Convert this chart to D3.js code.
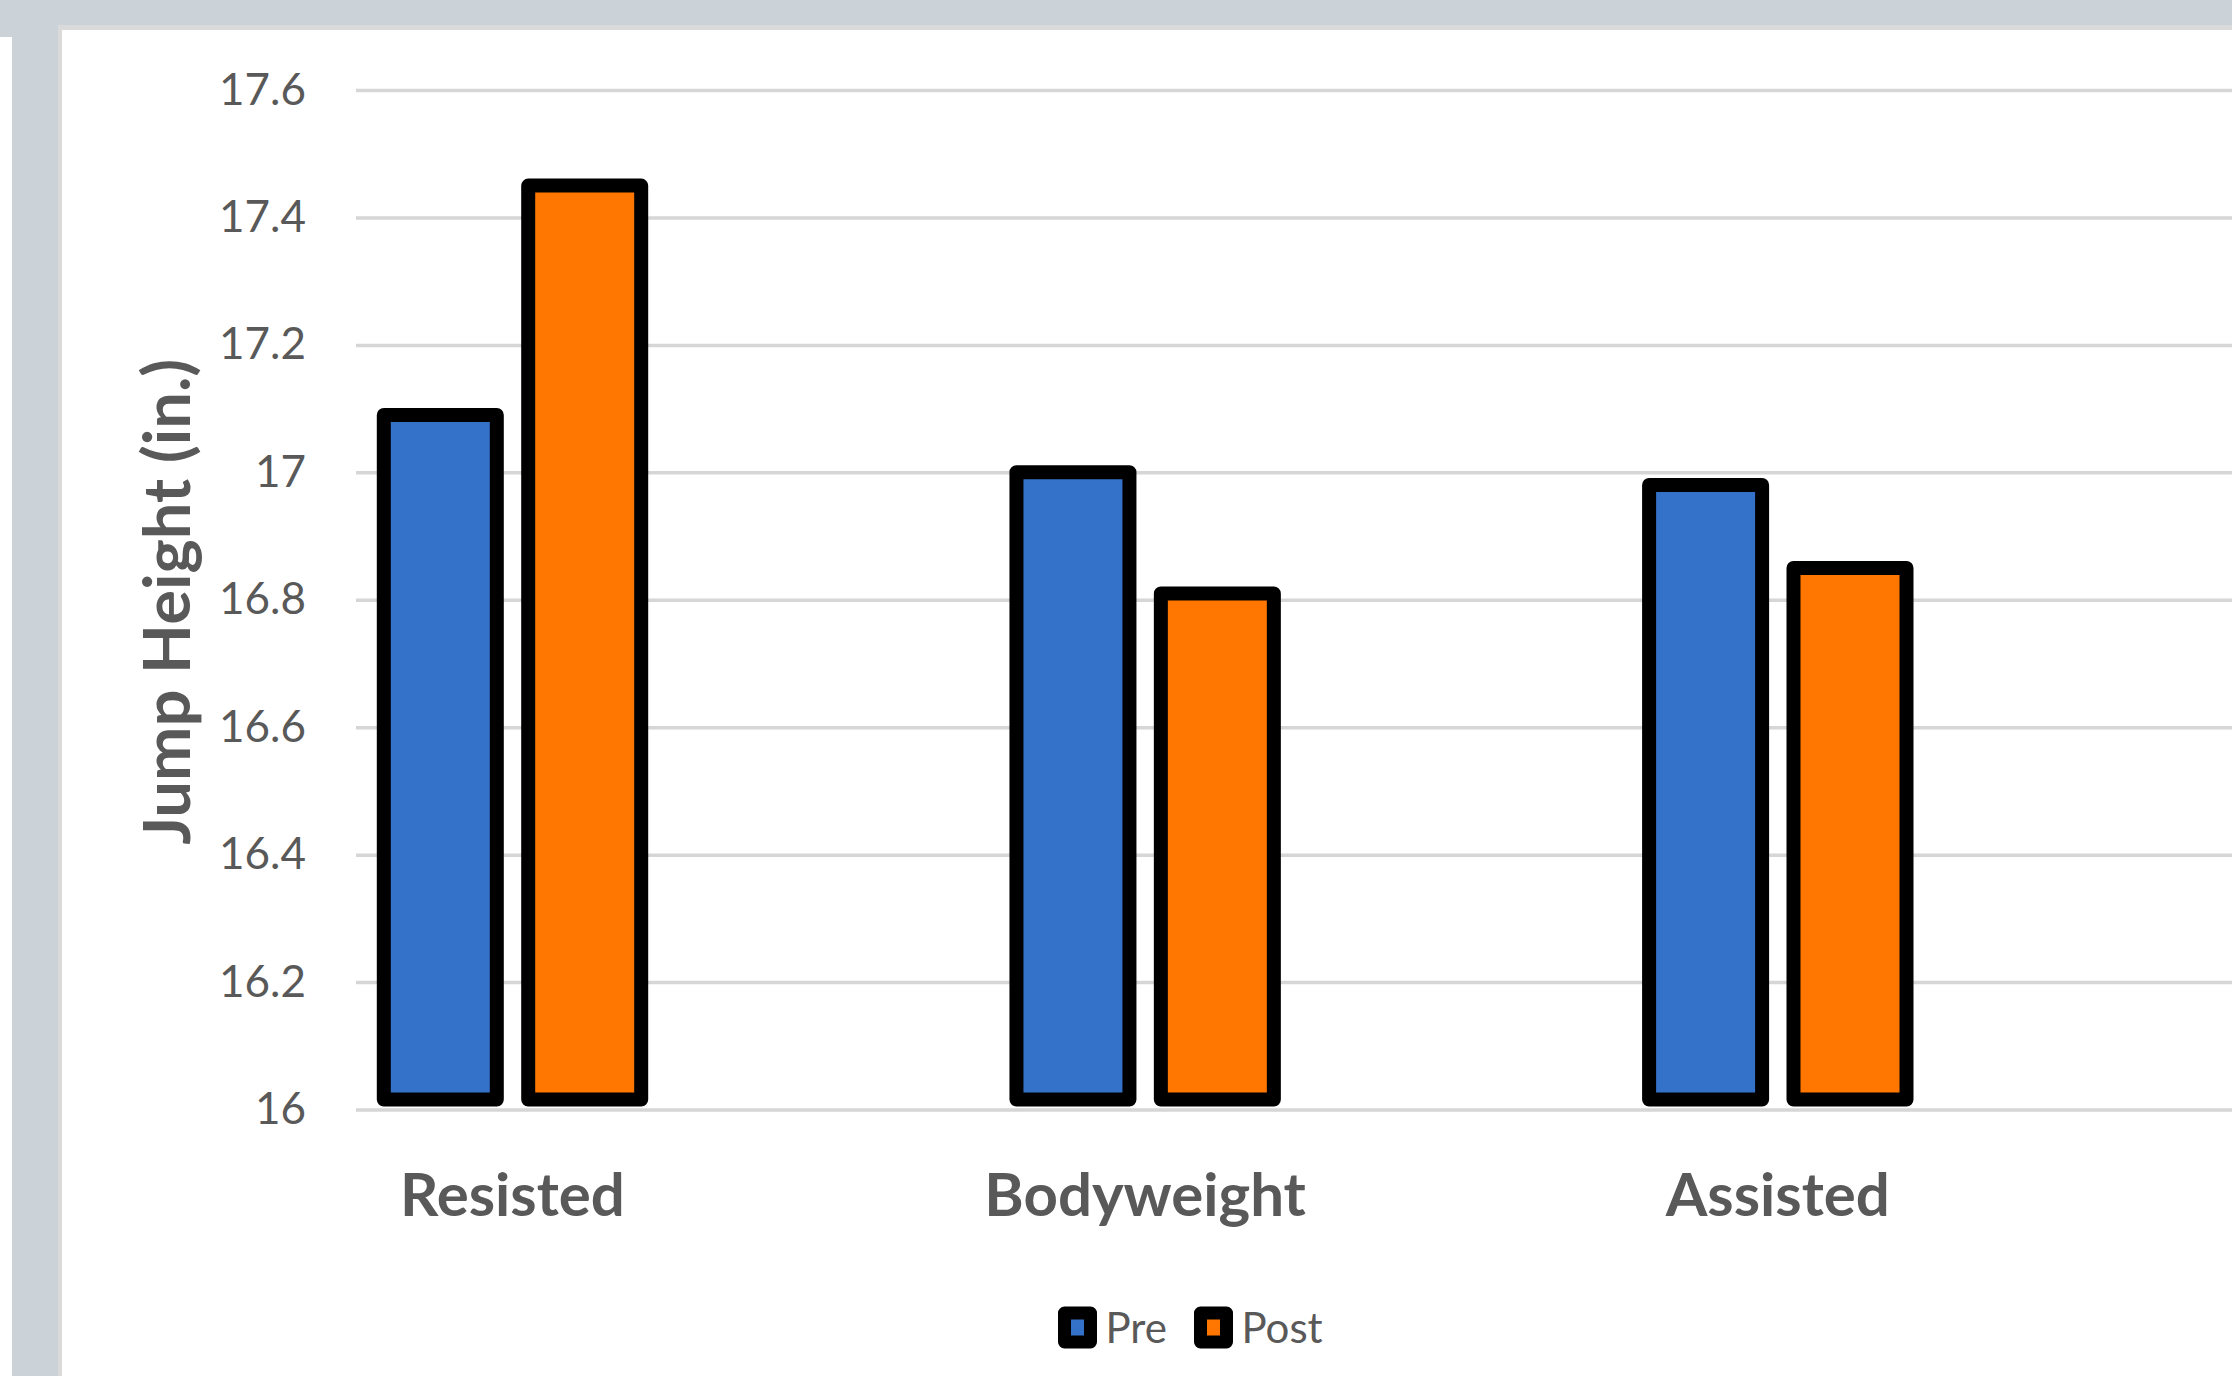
<!DOCTYPE html>
<html lang="en">
<head>
    <meta charset="UTF-8">
    <script src="https://d3js.org/d3.v7.min.js"></script>
    <title>Jump Height - Pre / Post</title>
    <style>
        body { margin: 0; background: #ffffff; }
        svg text { font-family: Lato, "Open Sans", sans-serif; fill: #595959; }
    </style>
</head>
<body>

    <div id="chart"></div>

    <script>
        // chart values
        let categories = ["Resisted", "Bodyweight", "Assisted"];
        let series = ["Pre", "Post"];
        let preValues = [17.09, 17.00, 16.98];
        let postValues = [17.45, 16.81, 16.85];
        let yTicks = [16, 16.2, 16.4, 16.6, 16.8, 17, 17.2, 17.4, 17.6];
        let seriesColors = ["#3472c9", "#ff7700"];

        let width = 2232, height = 1376;

        let svg = d3.select("#chart")
            .append("svg")
            .attr("width", width)
            .attr("height", height);

        // frame around the chart (screenshot edges)
        svg.append("rect").attr("x", 0).attr("y", 0).attr("width", width).attr("height", 25).attr("fill", "#cbd3d9");
        svg.append("rect").attr("x", 0).attr("y", 25).attr("width", width).attr("height", 5).attr("fill", "#dadada");
        svg.append("rect").attr("x", 0).attr("y", 0).attr("width", 12).attr("height", 37).attr("fill", "#cbd3d9");
        svg.append("rect").attr("x", 12).attr("y", 0).attr("width", 46).attr("height", height).attr("fill", "#cbd3d9");
        svg.append("rect").attr("x", 58).attr("y", 30).attr("width", 4).attr("height", height).attr("fill", "#dadada");

        // scales
        let plotLeft = 356;
        let y = d3.scaleLinear()
            .domain([16, 17.6])
            .range([1109.5, 90]);

        let groupStep = 632.65;
        let x = d3.scaleBand()
            .domain(categories)
            .range([512.5 - groupStep / 2, 512.5 + groupStep * 2.5])
            .padding(0);

        let groupWidth = 288.8;
        let xSub = d3.scaleBand()
            .domain(series)
            .range([0, groupWidth])
            .padding(0);

        let barWidth = 113;
        let borderWidth = 14;

        // y axis with gridlines
        let yAxis = svg.append("g")
            .attr("transform", "translate(" + plotLeft + ",0)")
            .call(d3.axisLeft(y)
                .tickValues(yTicks)
                .tickFormat(function (d) { return String(+d.toFixed(1)); })
                .tickSizeInner(-(width - plotLeft))
                .tickSizeOuter(0)
                .tickPadding(50));
        yAxis.select(".domain").remove();
        yAxis.selectAll(".tick line")
            .attr("stroke", "#d6d6d6")
            .attr("stroke-width", 3.5);
        yAxis.selectAll(".tick text")
            .style("font-size", "44px")
            .attr("fill", "#595959");

        // y axis title
        svg.append("text")
            .attr("transform", "translate(190," + ((y(16) + y(17.6)) / 2 + 2) + ") rotate(-90)")
            .attr("text-anchor", "middle")
            .style("font-size", "65px")
            .style("font-weight", "bold")
            .text("Jump Height (in.)");

        // bars
        let rows = [];
        categories.forEach(function (c, i) {
            rows.push({cat: c, s: "Pre", v: preValues[i], color: seriesColors[0]});
            rows.push({cat: c, s: "Post", v: postValues[i], color: seriesColors[1]});
        });

        svg.selectAll("rect.bar")
            .data(rows)
            .enter()
            .append("rect")
            .attr("class", "bar")
            .attr("x", function (d) {
                return x(d.cat) + x.bandwidth() / 2 - groupWidth / 2 + xSub(d.s) + (xSub.bandwidth() - barWidth) / 2;
            })
            .attr("y", function (d) { return y(d.v); })
            .attr("width", barWidth)
            .attr("height", function (d) { return (y(16) - 10) - y(d.v); })
            .attr("fill", function (d) { return d.color; })
            .attr("stroke", "#000000")
            .attr("stroke-width", borderWidth)
            .attr("stroke-linejoin", "round");

        // category labels
        svg.selectAll("text.cat")
            .data(categories)
            .enter()
            .append("text")
            .attr("class", "cat")
            .attr("x", function (d) { return x(d) + x.bandwidth() / 2; })
            .attr("y", 1216)
            .attr("text-anchor", "middle")
            .style("font-size", "60px")
            .style("font-weight", "bold")
            .text(function (d) { return d; });

        // legend
        let legendX = [1064.5, 1200.5];
        let legend = svg.selectAll("g.legend")
            .data(series)
            .enter()
            .append("g")
            .attr("class", "legend")
            .attr("transform", function (d, i) { return "translate(" + legendX[i] + ",1313)"; });
        legend.append("rect")
            .attr("width", 26)
            .attr("height", 29)
            .attr("fill", function (d, i) { return seriesColors[i]; })
            .attr("stroke", "#000000")
            .attr("stroke-width", 13)
            .attr("stroke-linejoin", "round");
        legend.append("text")
            .attr("x", 41)
            .attr("y", 30)
            .style("font-size", "42px")
            .text(function (d) { return d; });
    </script>

</body>
</html>
